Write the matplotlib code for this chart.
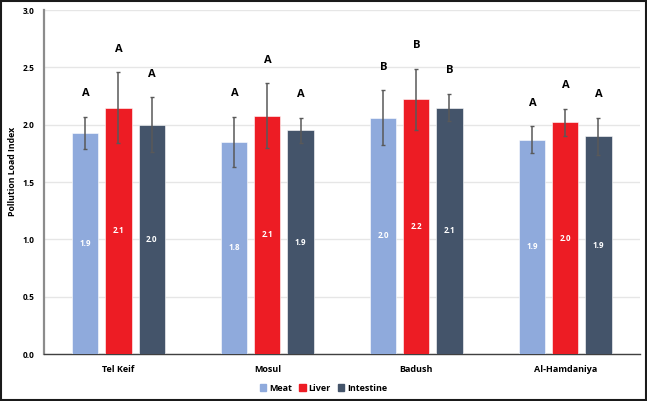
import numpy as np
import matplotlib.pyplot as plt
from matplotlib.patches import Rectangle

plt.rcParams['font.family'] = ['Open Sans', 'DejaVu Sans']
plt.rcParams['font.weight'] = 'bold'

# data
sites = ['Tel Keif', 'Mosul', 'Badush', 'Al-Hamdaniya']
tissues = ['Meat', 'Liver', 'Intestine']
meat = [1.93, 1.85, 2.06, 1.87]
liver = [2.15, 2.08, 2.22, 2.02]
intestine = [2.00, 1.95, 2.15, 1.90]
meat_err = [0.14, 0.22, 0.24, 0.115]
liver_err = [0.31, 0.28, 0.27, 0.12]
intestine_err = [0.24, 0.11, 0.12, 0.16]
meat_lab = ['1.9', '1.8', '2.0', '1.9']
liver_lab = ['2.1', '2.1', '2.2', '2.0']
intestine_lab = ['2.0', '1.9', '2.1', '1.9']
meat_grp = ['A', 'A', 'B', 'A']
liver_grp = ['A', 'A', 'B', 'A']
intestine_grp = ['A', 'A', 'B', 'A']

colors = ['#8FAADC', '#ED1C24', '#44546A']

fig = plt.figure(figsize=(6.47, 4.01), dpi=100)
ax = fig.add_axes([0.068, 0.117, 0.921, 0.858])

x = np.arange(len(sites))
width = 0.175
step = 0.222
series = [(meat, meat_err, meat_lab, meat_grp),
          (liver, liver_err, liver_lab, liver_grp),
          (intestine, intestine_err, intestine_lab, intestine_grp)]

for i, (vals, errs, labs, grps) in enumerate(series):
    pos = x + (i - 1) * step
    ax.bar(pos, vals, width, color=colors[i], label=tissues[i], zorder=3,
           edgecolor='white', linewidth=0.4)
    ax.errorbar(pos, vals, yerr=errs, fmt='none', ecolor='#595959',
                elinewidth=1.1, capsize=1.5, capthick=1.0, zorder=4)
    for p, v, e, lab, g in zip(pos, vals, errs, labs, grps):
        ax.text(p, v / 2, lab, ha='center', va='center', color='white',
                fontsize=5.8, fontweight='bold', zorder=5)
        ax.text(p, v + e + 0.2, g, ha='center', va='center', color='black',
                fontsize=8, fontweight='bold', zorder=5)

ax.set_xlim(-0.5, 3.5)
ax.set_ylim(0, 3.0)
ax.set_yticks(np.arange(0, 3.01, 0.5))
ax.set_yticklabels([f'{t:.1f}' for t in np.arange(0, 3.01, 0.5)], fontsize=6,
                   fontweight='bold')
ax.set_xticks(x)
ax.set_xticklabels(sites, fontsize=6.5, fontweight='bold')
ax.tick_params(axis='y', length=0, pad=7)
ax.tick_params(axis='x', length=0, pad=8)
ax.set_ylabel('Pollution Load Index', fontsize=6.3, fontweight='bold')
ax.yaxis.set_label_coords(-0.046, 0.53)
ax.grid(axis='y', color='#E6E6E6', linewidth=1, zorder=0)
ax.set_axisbelow(True)
for s in ['top', 'right']:
    ax.spines[s].set_visible(False)
ax.spines['left'].set_color('#8C8C8C')
ax.spines['left'].set_linewidth(1.6)
ax.spines['bottom'].set_color('#404040')
ax.spines['bottom'].set_linewidth(1.0)

handles = [Rectangle((0, 0), 1, 1, color=c) for c in colors]
fig.legend(handles, tissues, loc='center', bbox_to_anchor=(0.5, 0.032), ncol=3,
           frameon=False, handlelength=0.7, handleheight=0.7,
           handletextpad=0.3, columnspacing=0.8, prop={'weight': 'bold', 'size': 6.5})

fig.patches.append(Rectangle((0.002, 0.003), 0.996, 0.994, transform=fig.transFigure,
                             fill=False, edgecolor='#1a1a1a', linewidth=1.5))

fig.savefig('out.png', dpi=100)
